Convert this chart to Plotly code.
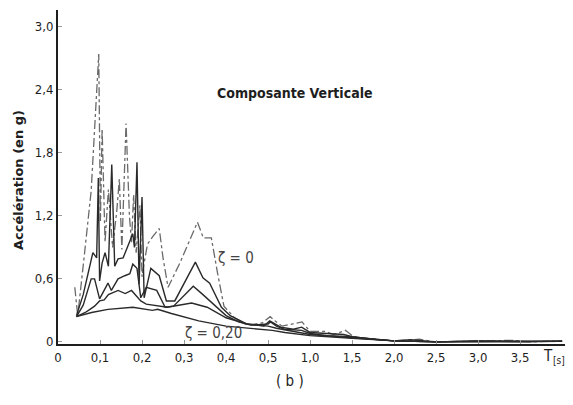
import plotly.graph_objects as go

# Period T (s) and spectral acceleration (g) for each damping ratio
T_z0 = [0.040, 0.047, 0.062, 0.079, 0.097, 0.101, 0.105, 0.112, 0.120, 0.130, 0.140, 0.146, 0.152,
        0.162, 0.170, 0.175, 0.180, 0.186, 0.195, 0.200, 0.205, 0.213, 0.225, 0.241, 0.250, 0.262,
        0.290, 0.332, 0.346, 0.365, 0.380, 0.395, 0.420, 0.450, 0.486, 0.525, 0.585, 0.665, 0.785,
        0.905, 1.00, 1.18, 1.28, 1.42, 1.50, 1.56, 1.75, 1.98, 2.20, 2.30, 2.50, 3.00, 3.40, 3.60, 4.00]
A_z0 = [0.52, 0.25, 0.80, 1.44, 2.74, 1.15, 2.03, 0.95, 1.45, 0.90, 1.25, 1.55, 0.88,
        2.08, 1.20, 0.95, 1.40, 0.85, 1.30, 0.62, 0.75, 0.93, 1.00, 1.08, 0.80, 0.52,
        0.75, 1.14, 0.99, 0.99, 0.65, 0.34, 0.23, 0.16, 0.18, 0.24, 0.20, 0.15, 0.17,
        0.19, 0.10, 0.10, 0.07, 0.11, 0.06, 0.04, 0.03, 0.01, 0.02, 0.025, 0.00, 0.01, 0.015, 0.00, 0.01]

T_z02 = [0.044, 0.060, 0.083, 0.092, 0.096, 0.099, 0.105, 0.112, 0.120, 0.128, 0.135, 0.143, 0.155,
         0.170, 0.178, 0.182, 0.188, 0.193, 0.200, 0.205, 0.221, 0.241, 0.258, 0.278, 0.327, 0.345,
         0.361, 0.389, 0.410, 0.450, 0.490, 0.520, 0.560, 0.650, 0.800, 0.900, 1.00, 1.20, 1.40,
         1.50, 1.70, 2.00, 2.20, 2.50, 3.00, 3.50, 4.00]
A_z02 = [0.25, 0.45, 0.85, 0.80, 1.56, 0.58, 0.75, 0.85, 0.72, 1.69, 0.72, 0.79, 0.80,
         0.95, 1.03, 0.90, 1.71, 0.55, 1.38, 0.42, 0.70, 0.63, 0.39, 0.39, 0.76, 0.61,
         0.56, 0.33, 0.25, 0.17, 0.15, 0.20, 0.18, 0.14, 0.12, 0.14, 0.09, 0.08, 0.07,
         0.05, 0.03, 0.01, 0.02, 0.00, 0.01, 0.00, 0.01]

T_z05 = [0.044, 0.060, 0.079, 0.087, 0.099, 0.119, 0.127, 0.143, 0.159, 0.171, 0.178, 0.188, 0.197,
         0.210, 0.235, 0.255, 0.275, 0.322, 0.345, 0.370, 0.400, 0.430, 0.460, 0.500, 0.530, 0.600,
         0.700, 0.900, 1.00, 1.20, 1.50, 1.70, 2.00, 2.50, 3.00, 4.00]
A_z05 = [0.24, 0.35, 0.60, 0.60, 0.41, 0.56, 0.49, 0.60, 0.63, 0.65, 0.74, 0.70, 0.42,
         0.52, 0.49, 0.33, 0.34, 0.53, 0.45, 0.36, 0.25, 0.19, 0.16, 0.17, 0.19, 0.15,
         0.12, 0.11, 0.08, 0.06, 0.05, 0.03, 0.01, 0.00, 0.01, 0.005]

T_z10 = [0.044, 0.065, 0.076, 0.087, 0.099, 0.110, 0.120, 0.143, 0.160, 0.175, 0.197, 0.210, 0.260,
         0.318, 0.355, 0.400, 0.450, 0.500, 0.600, 0.800, 1.00, 1.50, 2.00, 2.50, 4.00]
A_z10 = [0.24, 0.28, 0.31, 0.34, 0.39, 0.40, 0.45, 0.49, 0.46, 0.49, 0.39, 0.36, 0.33,
         0.37, 0.33, 0.23, 0.17, 0.15, 0.13, 0.10, 0.07, 0.04, 0.01, 0.00, 0.005]

T_z20 = [0.044, 0.080, 0.119, 0.150, 0.178, 0.225, 0.237, 0.270, 0.335, 0.400, 0.460, 0.550, 0.700,
         1.00, 1.50, 2.00, 2.50, 4.00]
A_z20 = [0.24, 0.28, 0.31, 0.32, 0.33, 0.30, 0.31, 0.27, 0.20, 0.15, 0.13, 0.11, 0.09,
         0.06, 0.035, 0.01, 0.00, 0.005]

x_tick_T = [0, 0.1, 0.2, 0.3, 0.4, 0.5, 1.0, 1.5, 2.0, 2.5, 3.0, 3.5]
x_tick_text = ["0", "0,1", "0,2", "0,3", "0,4", "0,5", "1,0", "1,5", "2,0", "2,5", "3,0", "3,5"]
y_tick_vals = [0, 0.6, 1.2, 1.8, 2.4, 3.0]
y_tick_text = ["0", "0,6", "1,2", "1,8", "2,4", "3,0"]


def scale_T(t):
    """Piecewise period axis of the original figure: 0.1 s per division up to 0.5 s, 0.5 s beyond."""
    return t / 0.1 if t <= 0.5 else 5 + (t - 0.5) / 0.5


INK = "#1e1e1e"
FONT = "DejaVu Sans Condensed, Liberation Sans Narrow, DejaVu Sans, sans-serif"
WIDE = "DejaVu Sans, sans-serif"

fig = go.Figure()
series = [
    (T_z0, A_z0, dict(color="#6a6a6a", width=1.3, dash="dashdot")),
    (T_z02, A_z02, dict(color="#2a2a2a", width=1.4)),
    (T_z05, A_z05, dict(color="#2a2a2a", width=1.4)),
    (T_z10, A_z10, dict(color="#2a2a2a", width=1.4)),
    (T_z20, A_z20, dict(color="#2a2a2a", width=1.4)),
]
for T, A, ln in series:
    fig.add_trace(go.Scatter(x=[scale_T(t) for t in T], y=A, mode="lines", line=ln,
                             showlegend=False, hoverinfo="skip"))

fig.update_xaxes(range=[0, 12.14], tickvals=[scale_T(t) for t in x_tick_T], ticktext=x_tick_text,
                 showgrid=False, zeroline=False, showline=True, linecolor=INK, linewidth=2,
                 ticks="inside", ticklen=4, tickcolor="#999", tickwidth=1,
                 tickfont=dict(family=FONT, size=13, color=INK))
fig.update_yaxes(range=[-0.02, 3.16], tickvals=y_tick_vals, ticktext=y_tick_text,
                 showgrid=False, zeroline=False, showline=True, linecolor=INK, linewidth=2,
                 ticks="inside", ticklen=4, tickcolor="#999", tickwidth=1,
                 tickfont=dict(family=FONT, size=13, color=INK))

# positions below are in page pixels (plot area spans x 58..568, y 10..344 on the page)
annos = [
    dict(text="<b>Composante Verticale</b>", x=295, y=93, size=14, family=FONT, anchor="center"),
    dict(text="<b>Accélération (en g)</b>", x=18, y=180, size=13, family=WIDE, angle=-90,
         anchor="center"),
    dict(text="( b )", x=290, y=381, size=15, family=FONT, anchor="center"),
    dict(text="T", x=548, y=356, size=15, family=FONT, anchor="center"),
    dict(text="[s]", x=567, y=361, size=10, family=FONT, anchor="right"),
]
for a in annos:
    fig.add_annotation(text=a["text"], xref="paper", yref="paper",
                       x=(a["x"] - 58) / 510, y=(344 - a["y"]) / 334,
                       showarrow=False, textangle=a.get("angle", 0),
                       font=dict(family=a["family"], size=a["size"], color=INK),
                       xanchor=a["anchor"], yanchor="middle")

fig.add_annotation(text="ζ = 0", x=scale_T(0.424), y=0.80, xref="x", yref="y", showarrow=False,
                   font=dict(family=FONT, size=15, color="#444"))
fig.add_annotation(text="ζ = 0,20", x=scale_T(0.369), y=0.086, xref="x", yref="y", showarrow=False,
                   font=dict(family=FONT, size=15, color="#444"))

fig.update_layout(width=560, height=389, margin=dict(l=50, r=0, t=2, b=53),
                  paper_bgcolor="white", plot_bgcolor="white")
fig.write_html("out.html")
